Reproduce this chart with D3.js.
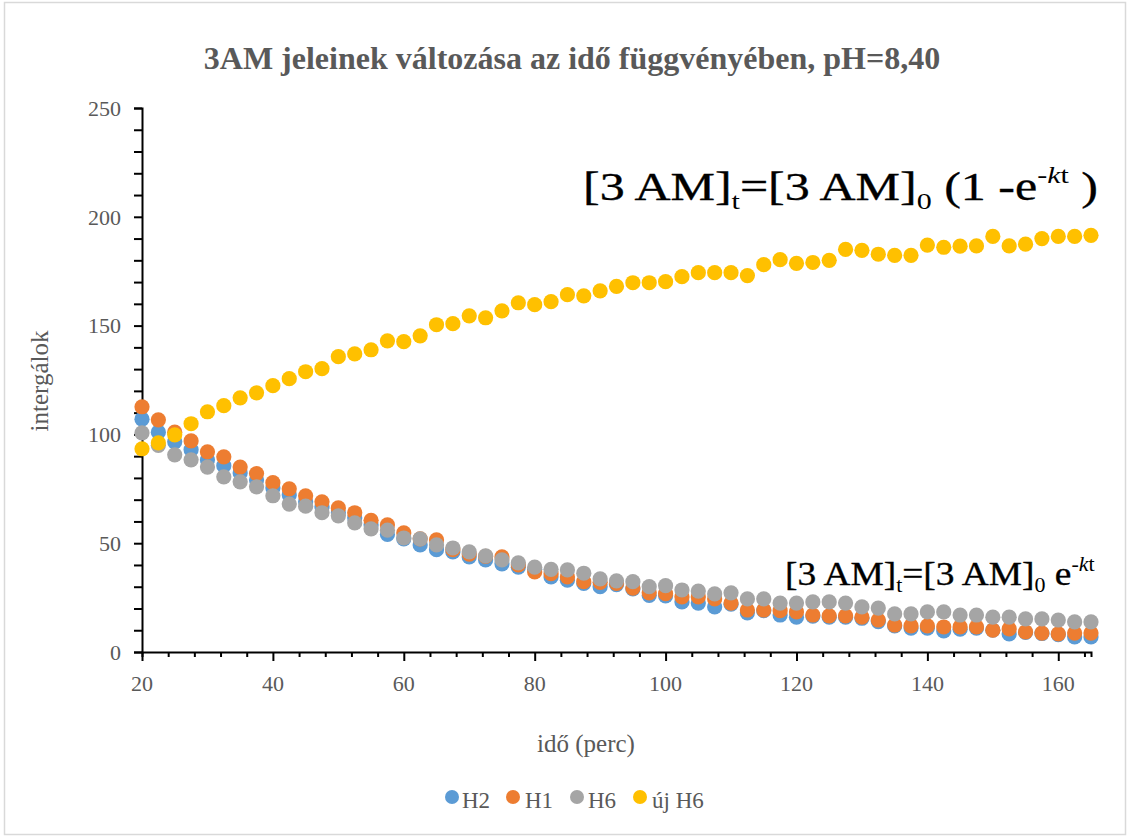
<!DOCTYPE html>
<html><head><meta charset="utf-8">
<script src="https://cdn.jsdelivr.net/npm/d3@7"></script>
<style>body{margin:0;background:#fff}svg{display:block}text{font-family:"Liberation Serif","Times New Roman",serif}</style>
</head><body><svg id="c" width="1131" height="839"></svg>
<script>
const times = [20,22.5,25,27.5,30,32.5,35,37.5,40,42.5,45,47.5,50,52.5,55,57.5,60,62.5,65,67.5,70,72.5,75,77.5,80,82.5,85,87.5,90,92.5,95,97.5,100,102.5,105,107.5,110,112.5,115,117.5,120,122.5,125,127.5,130,132.5,135,137.5,140,142.5,145,147.5,150,152.5,155,157.5,160,162.5,165];
const H2 = [107,101,96.6,93,88.3,85.6,82.3,79,75.4,72.2,69,66.7,64,61.6,58.4,54,52,49.2,47,46,43.7,42.3,40.5,39,38,34.5,33,31.5,30,31,29,26,25.8,23,22.5,20.7,22,18,19,17,16,16.5,16,16,15.5,14,12,11,11,9.7,10.5,11,10,8.3,9,8.5,8,6.9,6.9];
const H1 = [112.7,106.7,101,97,92,89.7,85,82,77.8,75,71.8,69,66.2,64,60.5,58.4,54.7,52,51.5,47,45,44,43.7,40,36.8,36,34.5,32.3,32,31.5,29.4,27.2,26.8,25.3,25.3,24.4,22.5,19.3,19.3,19,18.4,17,16.6,16.6,16,14.7,12.4,12,12,11.5,11.5,11.5,10,10.6,9.2,8.7,8.3,8.7,8.7];
const H6 = [100.7,95,90.6,88.3,85,80.5,78.2,75.9,71.8,68,67,64,62.6,59.3,56.6,56,52.4,52,49.2,47.8,46,44.2,42.3,41,39,38,37.7,36.2,33.6,32.7,32.3,30,30.5,28.5,28,26.7,27.2,24.4,24.4,22.5,22.5,23,23,22.5,20.7,20.2,17.5,17.5,18.4,18.4,17,17,16,16,15.2,15.2,14.7,13.8,13.8];
const ujH6 = [93.4,96.1,99.8,104.9,110.4,113.2,116.8,119.1,122.4,125.6,128.8,130.2,135.7,137,138.9,143,142.6,145.3,150.4,150.9,154.5,153.6,156.8,160.5,159.6,161,164.2,163.7,166,168,169.7,169.7,170.2,172.5,174.3,174.3,174.3,173,178,180.3,178.6,179,180,185,184.6,182.8,182.3,182.3,187,186,186.5,186.6,191,186.6,187.4,190,191,191,191.5];
const seriesNames = ["H2","H1","H6","új H6"];
const seriesColors = ["#5B9BD5","#ED7D31","#A5A5A5","#FFC000"];
const xTicks = [20,40,60,80,100,120,140,160];
const yTicks = [0,50,100,150,200,250];
const title = "3AM jeleinek változása az idő függvényében, pH=8,40";
const xTitle = "idő (perc)";
const yTitle = "intergálok";

const svg = d3.select("#c");
svg.append("rect").attr("x",4.5).attr("y",2.5).attr("width",1121).attr("height",832).attr("fill","#fff").attr("stroke","#d9d9d9").attr("stroke-width",1.5);

const x = d3.scaleLinear().domain([20,165]).range([142,1091]);
const y = d3.scaleLinear().domain([0,250]).range([652,108]);
const txt = "#595959";

svg.append("text").attr("x",572).attr("y",69).attr("text-anchor","middle").attr("font-size",32).attr("font-weight","bold").attr("fill",txt).text(title);

// Y axis
const ya = svg.append("g").attr("transform","translate(142,0)")
  .call(d3.axisLeft(y).tickValues(d3.range(0,251,10)).tickSize(8).tickFormat(""));
ya.select(".domain").attr("stroke","#000").attr("stroke-width",2);
ya.selectAll(".tick line").attr("stroke","#000").attr("stroke-width",2);
svg.append("g").selectAll("text").data(yTicks).join("text")
  .attr("x",121).attr("y",d=>y(d)).attr("dy","0.35em").attr("text-anchor","end")
  .attr("font-size",22).attr("fill",txt).text(d=>d);

// X axis
const xa = svg.append("g").attr("transform","translate(0,652)")
  .call(d3.axisBottom(x).tickValues(d3.range(20,166,4)).tickSize(5).tickFormat(""));
xa.select(".domain").attr("stroke","#000").attr("stroke-width",2);
xa.selectAll(".tick line").attr("stroke","#000").attr("stroke-width",2)
  .attr("y2",d=>((d-20)%20===0)?9:5);
svg.append("g").selectAll("text").data(xTicks).join("text")
  .attr("x",d=>x(d)).attr("y",691).attr("text-anchor","middle")
  .attr("font-size",22).attr("fill",txt).text(d=>d);

svg.append("text").attr("x",586).attr("y",752).attr("text-anchor","middle").attr("font-size",25).attr("fill",txt).text(xTitle);
svg.append("text").attr("transform","translate(48,381) rotate(-90)").attr("text-anchor","middle").attr("font-size",25).attr("fill",txt).text(yTitle);

// Series
const data = [H2,H1,H6,ujH6];
data.forEach((vals,si)=>{
  svg.append("g").selectAll("circle").data(vals).join("circle")
    .attr("cx",(d,i)=>x(times[i])).attr("cy",d=>y(d)).attr("r",7.6)
    .attr("fill",seriesColors[si]);
});

// Equations
function eq(xp, yp, fs, sx, withParen){
  const sub = Math.round(fs*0.6), sh = Math.round(fs*0.22), sup = Math.round(fs*0.42);
  const t = svg.append("text").attr("transform",`translate(${xp},${yp}) scale(${sx},1)`)
    .attr("font-size",fs).attr("fill","#000");
  const main = s => t.append("tspan").attr("stroke","#000").attr("stroke-width",0.35).text(s);
  main("[3 AM]");
  t.append("tspan").attr("font-size",sub).attr("dy",sh).text("t");
  main("=[3 AM]").attr("dy",-sh);
  t.append("tspan").attr("font-size",sub).attr("dy",sh).text("0");
  main(withParen ? " (1 -e" : " e").attr("dy",-sh);
  t.append("tspan").attr("font-size",sub).attr("dy",-sup).text("-");
  t.append("tspan").attr("font-size",sub).attr("font-style","italic").text("k");
  t.append("tspan").attr("font-size",sub).text("t");
  if(withParen) main(" )").attr("dy",sup);
}
eq(583,200,40,1.25,true);
eq(785,585,34,1.1,false);

// Legend
const lg = [[452,462],[513,525],[577,588],[640,652]];
seriesNames.forEach((n,i)=>{
  svg.append("circle").attr("cx",lg[i][0]).attr("cy",797).attr("r",7).attr("fill",seriesColors[i]);
  svg.append("text").attr("x",lg[i][1]).attr("y",808).attr("font-size",23).attr("fill",txt).text(n);
});
</script></body></html>
